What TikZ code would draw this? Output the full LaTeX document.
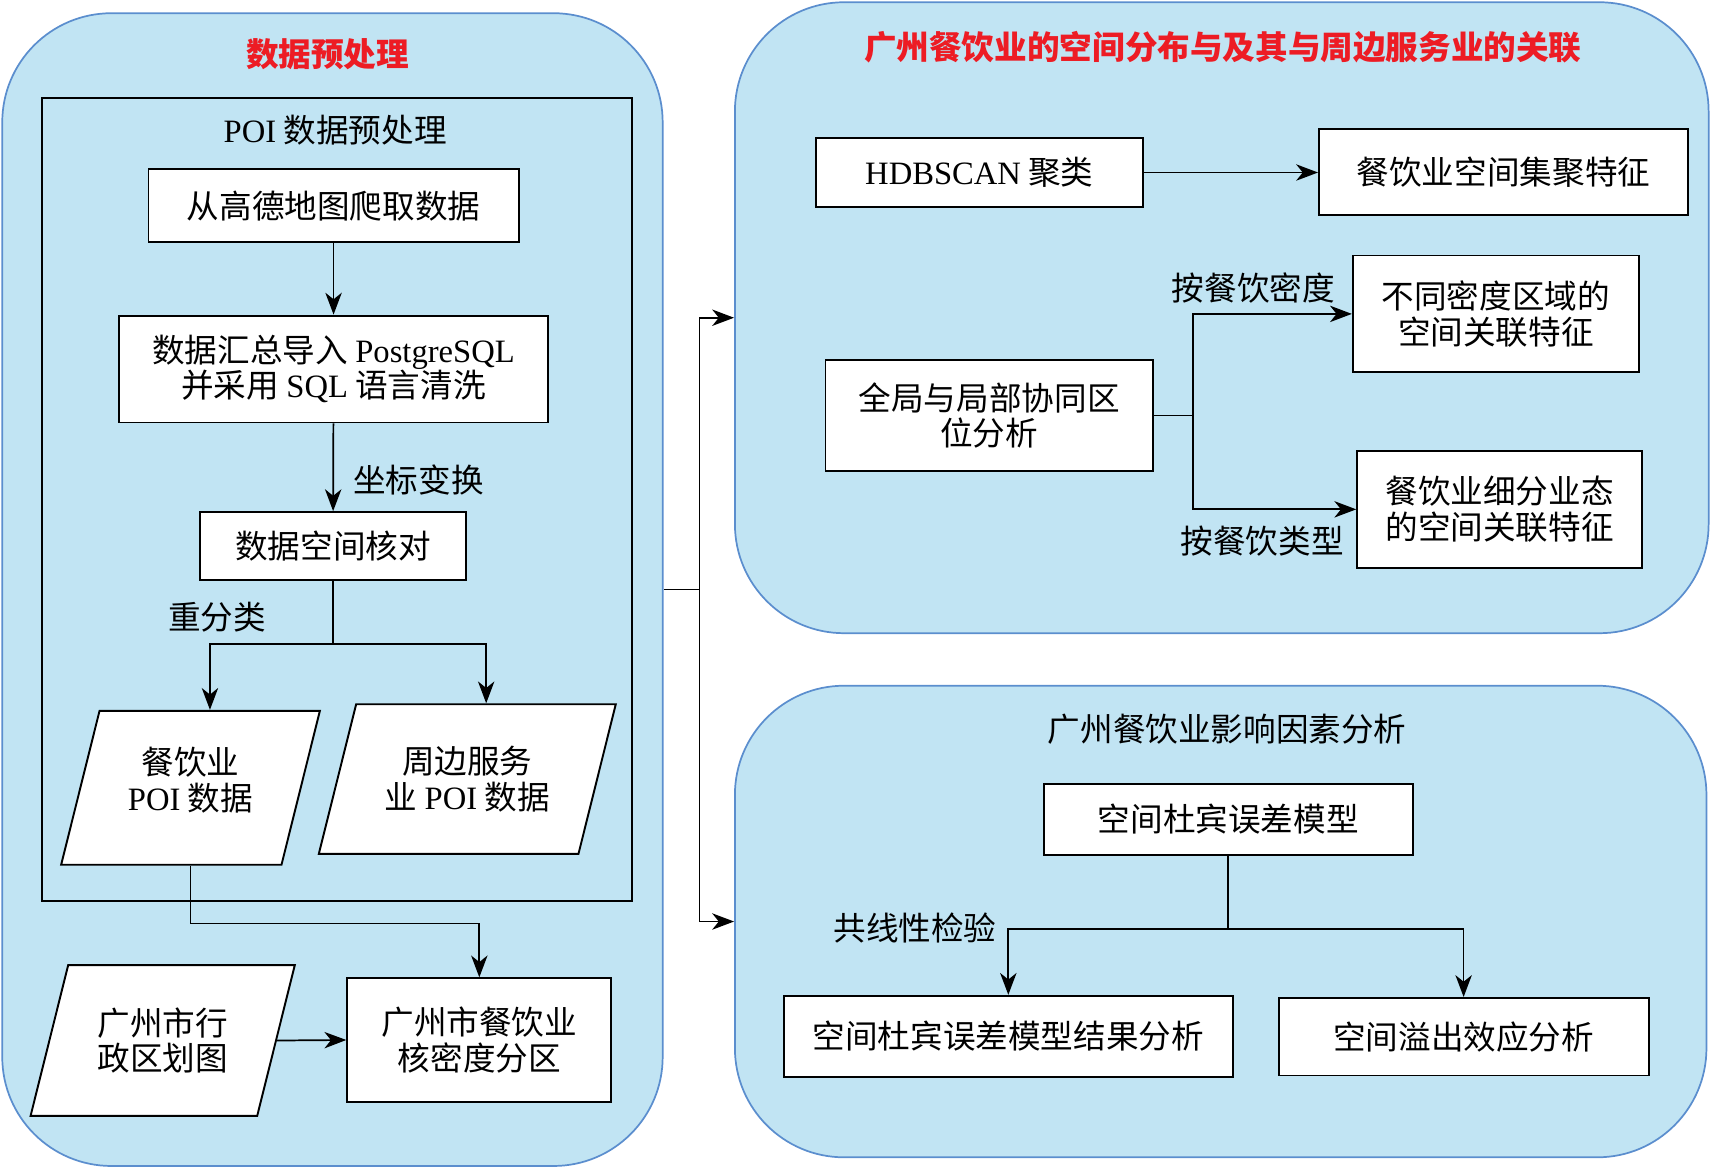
\documentclass[tikz,border=0pt]{standalone}
\usepackage{fontspec}
\setmainfont{Liberation Serif}
\newfontfamily\cjk{Noto Sans CJK SC}
\usetikzlibrary{arrows.meta,positioning,shapes.geometric}
\definecolor{panelblue}{RGB}{193,228,243}
\definecolor{paneledge}{RGB}{91,142,206}
\definecolor{titlered}{RGB}{237,28,36}
\newcommand{\lat}[1]{{\rmfamily #1}}

\begin{document}
\begin{tikzpicture}[x=0.02cm, y=-0.02cm,
  font=\cjk\fontsize{17}{18.5}\selectfont,
  panel/.style={draw=paneledge, line width=0.9pt, fill=panelblue, rounded corners=2cm, inner sep=0pt},
  procbox/.style={draw, fill=white, line width=1pt, align=center, inner sep=0pt},
  databox/.style={draw, fill=white, line width=1pt, inner xsep=0pt,
    trapezium, trapezium stretches body=true, trapezium left angle=76, trapezium right angle=104},
  flow/.style={-{Stealth[length=0.4cm, width=0.3cm, inset=0.12cm]}, line width=0.9pt},
  link/.style={line width=0.9pt},
  note/.style={inner sep=0pt},
  headline/.style={text=titlered, font=\cjk\bfseries\fontsize{17}{18.5}\selectfont}]

  \useasboundingbox (0,0) rectangle (1568,1071);

  % panels
  \node (prep) [panel, minimum width=12.1cm, minimum height=21.12cm] at (304.5,540) {};
  \node (dist) [panel, minimum width=17.84cm, minimum height=11.56cm] at (1119,291) {};
  \node (factor) [panel, minimum width=17.8cm, minimum height=8.64cm] at (1118,844) {};
  \node (poiframe) [draw, line width=1pt, minimum width=10.82cm, minimum height=14.7cm, inner sep=0pt] at (308.5,457.5) {};

  \node (preptitle) [headline] at (300,50) {数据预处理};
  \node (poititle) at (307,119) {\lat{POI} 数据预处理};
  \node (disttitle) [headline] at (1120,43) {广州餐饮业的空间分布与及其与周边服务业的关联};
  \node (factortitle) at (1124,668) {广州餐饮业影响因素分析};

  % data preprocessing
  \node (crawl) [procbox, minimum width=6.78cm, minimum height=1.34cm] at (305.5,188.5) {从高德地图爬取数据};
  \node (import) [procbox, minimum width=7.86cm, minimum height=1.96cm] at (305.5,338) {数据汇总导入 \lat{PostgreSQL}\\并采用 \lat{SQL} 语言清洗};
  \node (check) [procbox, minimum width=4.88cm, minimum height=1.24cm] at (305,500) {数据空间核对};
  \node (catpoi) [databox, minimum width=4.74cm, inner ysep=1.41cm,
    label={[align=center, yshift=0.14cm]center:餐饮业\\\lat{POI} 数据}] at (174.5,721.5) {};
  \node (servpoi) [databox, minimum width=5.44cm, inner ysep=1.37cm,
    label={[align=center]center:周边服务\\业 \lat{POI} 数据}] at (428,713.5) {};
  \node (admin) [databox, minimum width=4.84cm, inner ysep=1.38cm,
    label={[align=center]center:广州市行\\政区划图}] at (149,953) {};
  \node (kde) [procbox, minimum width=4.84cm, minimum height=2.26cm] at (439,952.5) {广州市餐饮业\\核密度分区};

  \draw[flow] (crawl) -- (import);
  \draw[flow] (import) -- (check) node (coordfix) [note, pos=0.65, right=0.35cm] {坐标变换};
  \draw[link] (check.south) -- ++(0,58) coordinate (fork1);
  \draw[flow] (fork1) -| (catpoi.top side);
  \draw[flow] (fork1) -| (servpoi.top side);
  \node (reclass) [note] at (199,565) {重分类};
  \draw[flow] (catpoi.south) -- ++(0,53) -| (kde.north);
  \draw[flow] (admin.east) -- (kde.west);

  % spatial distribution
  \node (hdb) [procbox, minimum width=6cm, minimum height=1.28cm] at (897,158) {\lat{HDBSCAN} 聚类};
  \node (cluster) [procbox, minimum width=6.76cm, minimum height=1.58cm] at (1377,157.5) {餐饮业空间集聚特征};
  \node (colloc) [procbox, minimum width=6cm, minimum height=2.02cm] at (906,380.5) {全局与局部协同区\\位分析};
  \node (densrel) [procbox, minimum width=5.24cm, minimum height=2.14cm] at (1370,287.5) {不同密度区域的\\空间关联特征};
  \node (typerel) [procbox, minimum width=5.22cm, minimum height=2.14cm] at (1373.5,466.5) {餐饮业细分业态\\的空间关联特征};

  \draw[flow] (hdb.east) -- (hdb.east -| cluster.west);
  \draw[link] (colloc.east) -- ++(36,0) coordinate (fork2);
  \draw[flow] (fork2) |- (densrel.west);
  \draw[flow] (fork2) |- (typerel.west);
  \node (bydens) [note] at (1148,264) {按餐饮密度};
  \node (bytype) [note] at (1156,496) {按餐饮类型};

  % influencing factors
  \node (sdem) [procbox, minimum width=6.76cm, minimum height=1.3cm] at (1125,750.5) {空间杜宾误差模型};
  \node (sdemres) [procbox, minimum width=8.22cm, minimum height=1.48cm] at (923.5,949) {空间杜宾误差模型结果分析};
  \node (spill) [procbox, minimum width=6.78cm, minimum height=1.42cm] at (1340.5,949.5) {空间溢出效应分析};

  \draw[link] (sdem.south) -- ++(0,67) coordinate (fork3);
  \draw[flow] (fork3) -| (sdemres.north);
  \draw[flow] (fork3) -| (spill.north);
  \node (collin) [note] at (838,850) {共线性检验};

  % panel links
  \draw[link] (prep.east) -- ++(33,0) coordinate (fork0);
  \draw[flow] (fork0) |- (dist.west);
  \draw[flow] (fork0) |- (factor.west);
\end{tikzpicture}
\end{document}
